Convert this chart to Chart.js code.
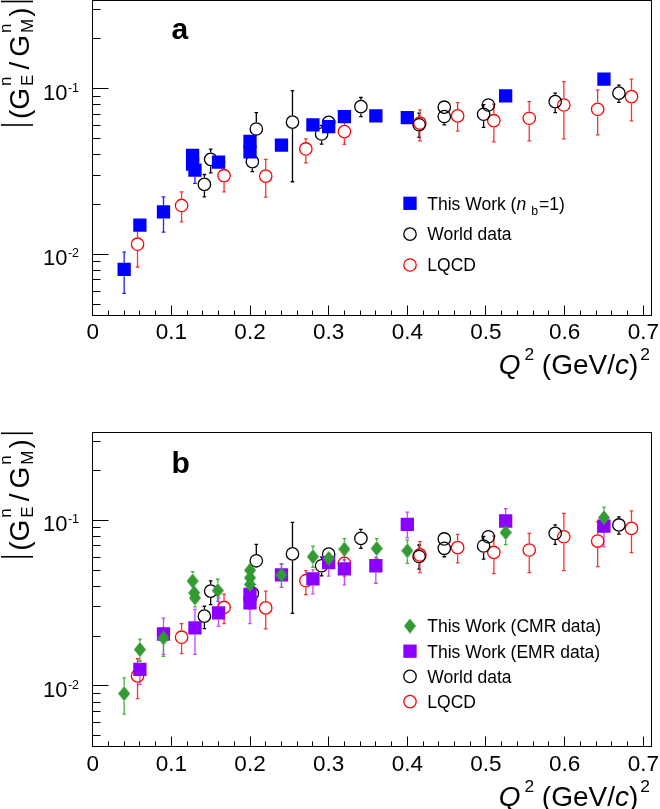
<!DOCTYPE html>
<html>
<head>
<meta charset="utf-8">
<script src="https://cdn.jsdelivr.net/npm/chart.js@4.4.1/dist/chart.umd.min.js"></script>
<style>
  html, body { margin: 0; padding: 0; background: #fff; }
  canvas { display: block; }
</style>
</head>
<body>
<canvas id="panelA" width="660" height="400"></canvas>
<canvas id="panelB" width="660" height="409"></canvas>
<script>
const FONT = '"Liberation Sans", Arial, Helvetica, sans-serif';

// axis ranges and tick labels
const q2Range = [0, 0.7107];
const ratioRange = [0.0043, 0.340];
const xTickValues = [0, 0.1, 0.2, 0.3, 0.4, 0.5, 0.6, 0.7];
const xTickLabels = ['0', '0.1', '0.2', '0.3', '0.4', '0.5', '0.6', '0.7'];
const yTickValues = [0.01, 0.1];
const yTickExponents = ['-2', '-1'];

// panel a : this work (n_b = 1)
const thisWorkQ2  = [0.040, 0.060, 0.090, 0.127, 0.127, 0.130, 0.160, 0.200, 0.200, 0.240, 0.280, 0.300, 0.320, 0.360, 0.400, 0.525, 0.650];
const thisWorkVal = [0.0081, 0.0150, 0.0180, 0.0395, 0.0350, 0.0322, 0.0360, 0.0480, 0.0415, 0.0456, 0.0603, 0.0589, 0.0678, 0.0684, 0.0668, 0.0903, 0.114];
const thisWorkLo  = [0.0058, 0.0140, 0.0136, 0.0370, 0.0320, 0.0268, 0.0340, 0.0450, 0.0380, 0.0430, 0.0570, 0.0560, 0.0640, 0.0650, 0.0630, 0.0860, 0.108];
const thisWorkHi  = [0.0103, 0.0160, 0.0222, 0.0420, 0.0380, 0.0360, 0.0380, 0.0510, 0.0450, 0.0480, 0.0640, 0.0620, 0.0720, 0.0720, 0.0710, 0.0950, 0.120];

// world data (both panels)
const worldQ2  = [0.142, 0.150, 0.203, 0.208, 0.254, 0.291, 0.300, 0.341, 0.415, 0.447, 0.447, 0.497, 0.503, 0.588, 0.669];
const worldVal = [0.0264, 0.0374, 0.0362, 0.0570, 0.0627, 0.0532, 0.0625, 0.0778, 0.0605, 0.0772, 0.0678, 0.0700, 0.0796, 0.0834, 0.0938];
const worldLo  = [0.0222, 0.0310, 0.0315, 0.0520, 0.0274, 0.0462, 0.0580, 0.0678, 0.0508, 0.0720, 0.0603, 0.0583, 0.0740, 0.0716, 0.0826];
const worldHi  = [0.0303, 0.0431, 0.0400, 0.0716, 0.0973, 0.0600, 0.0670, 0.0883, 0.0710, 0.0836, 0.0740, 0.0800, 0.0860, 0.0938, 0.105];

// LQCD (both panels)
const lqcdQ2  = [0.057, 0.113, 0.167, 0.220, 0.271, 0.320, 0.416, 0.464, 0.510, 0.555, 0.599, 0.642, 0.685];
const lqcdVal = [0.0115, 0.0197, 0.0298, 0.0296, 0.0432, 0.0550, 0.0618, 0.0684, 0.0640, 0.0662, 0.0796, 0.0750, 0.0894];
const lqcdLo  = [0.00838, 0.01567, 0.0238, 0.0221, 0.0356, 0.0461, 0.0484, 0.0554, 0.0477, 0.0483, 0.0497, 0.0525, 0.0638];
const lqcdHi  = [0.0146, 0.0238, 0.0359, 0.0374, 0.0497, 0.0630, 0.0743, 0.0822, 0.0805, 0.0834, 0.110, 0.0982, 0.114];

// panel b : CMR data
const cmrQ2  = [0.040, 0.060, 0.090, 0.127, 0.129, 0.130, 0.159, 0.200, 0.200, 0.200, 0.240, 0.280, 0.300, 0.320, 0.361, 0.400, 0.525, 0.650];
const cmrVal = [0.0090, 0.0166, 0.0195, 0.0430, 0.0365, 0.0340, 0.0377, 0.0500, 0.0450, 0.0410, 0.0468, 0.0603, 0.0589, 0.0670, 0.0676, 0.0655, 0.0844, 0.1037];
const cmrLo  = [0.00676, 0.0141, 0.0151, 0.0390, 0.0330, 0.0300, 0.0324, 0.0450, 0.0410, 0.0370, 0.0394, 0.0520, 0.0540, 0.0575, 0.0588, 0.0550, 0.0714, 0.0852];
const cmrHi  = [0.0112, 0.0192, 0.0224, 0.0490, 0.0400, 0.0380, 0.0441, 0.0550, 0.0490, 0.0450, 0.0545, 0.0699, 0.0640, 0.0776, 0.0776, 0.0759, 0.0976, 0.1203];

// panel b : EMR data
const emrQ2  = [0.060, 0.090, 0.130, 0.160, 0.200, 0.200, 0.240, 0.280, 0.300, 0.320, 0.360, 0.400, 0.525, 0.650];
const emrVal = [0.0126, 0.0206, 0.0224, 0.0276, 0.0357, 0.0318, 0.0468, 0.0443, 0.0555, 0.0510, 0.0532, 0.0946, 0.0991, 0.0924];
const emrLo  = [0.0102, 0.0155, 0.0155, 0.0229, 0.0290, 0.0238, 0.0394, 0.0360, 0.0461, 0.0408, 0.0417, 0.0783, 0.0850, 0.0692];
const emrHi  = [0.0131, 0.0257, 0.0290, 0.0340, 0.0420, 0.0370, 0.0545, 0.0502, 0.0620, 0.0580, 0.0600, 0.112, 0.1175, 0.110];

// legend texts, as [text, style, gap before]
const legendThisWork = [['This Work (', ''], ['n', 'i'], ['b', 'sub', 5], ['=1)', '', 1]];
const legendCMR = [['This Work (CMR data)', '']];
const legendEMR = [['This Work (EMR data)', '']];
const legendWorld = [['World data', '']];
const legendLQCD = [['LQCD', '']];
const xTitle = [['Q', 'i'], ['2', 'sup', 4], [' (GeV/', ''], ['c', 'i'], [')', ''], ['2', 'sup', 2]];

function points(xs, ys, lo, hi) {
  return xs.map((x, i) => ({x: x, y: ys[i], lo: lo[i], hi: hi[i]}));
}

function diamondImage(fill, w, h) {
  const c = document.createElement('canvas');
  c.width = w; c.height = h;
  const g = c.getContext('2d');
  g.fillStyle = fill;
  g.beginPath();
  g.moveTo(w / 2, 0); g.lineTo(w, h / 2); g.lineTo(w / 2, h); g.lineTo(0, h / 2);
  g.closePath(); g.fill();
  return c;
}

function squareSet(label, color, errColor, pts, legend) {
  return {label: label, data: pts, legendText: legend, pointStyle: 'rect', pointRadius: 9.4,
    pointBorderWidth: 0, pointBackgroundColor: color, pointBorderColor: color, errColor: errColor, half: 6.7};
}
function circleSet(label, color, errColor, pts, legend) {
  return {label: label, data: pts, legendText: legend, pointStyle: 'circle', pointRadius: 6.2,
    pointBorderWidth: 1.3, pointBackgroundColor: 'rgba(0,0,0,0)', pointBorderColor: color, errColor: errColor, half: 6.9};
}
function diamondSet(label, color, errColor, pts, legend) {
  return {label: label, data: pts, legendText: legend, pointStyle: diamondImage(color, 12, 15), pointRadius: 7.5,
    pointBackgroundColor: color, errColor: errColor, half: 7.5};
}

function segFont(style, size) {
  let s = size;
  if (style === 'sup') s = size * 0.62;
  if (style === 'sub') s = size * 0.7;
  return (style === 'i' ? 'italic ' : '') + s.toFixed(1) + 'px ' + FONT;
}

function drawRich(ctx, segs, x, y, size, align) {
  let w = 0;
  segs.forEach(s => { ctx.font = segFont(s[1], size); w += (s[2] || 0) + ctx.measureText(s[0]).width; });
  let cx = align === 'right' ? x - w : x;
  ctx.textAlign = 'left';
  ctx.textBaseline = 'alphabetic';
  segs.forEach(s => {
    ctx.font = segFont(s[1], size);
    cx += s[2] || 0;
    const dy = s[1] === 'sup' ? -0.5 * size : (s[1] === 'sub' ? 0.28 * size : 0);
    ctx.fillText(s[0], cx, y + dy);
    cx += ctx.measureText(s[0]).width;
  });
}

function drawMarker(ctx, ds, x, y) {
  const st = ds.pointStyle;
  if (typeof st !== 'string') { ctx.drawImage(st, x - st.width / 2, y - st.height / 2); return; }
  if (st === 'rect') {
    const s = ds.pointRadius * Math.SQRT1_2;
    ctx.fillStyle = ds.pointBackgroundColor;
    ctx.fillRect(x - s, y - s, 2 * s, 2 * s);
    return;
  }
  ctx.beginPath();
  ctx.arc(x, y, ds.pointRadius, 0, 2 * Math.PI);
  ctx.lineWidth = ds.pointBorderWidth;
  ctx.strokeStyle = ds.pointBorderColor;
  ctx.stroke();
}

function drawYTitle(ctx, area) {
  const big = 28, small = 17;
  const fb = big + 'px ' + FONT, fs = small + 'px ' + FONT;
  ctx.font = fb;
  const wOpen = ctx.measureText('(').width, wG = ctx.measureText('G').width;
  const wSlash = ctx.measureText('/').width, wClose = ctx.measureText(')').width;
  ctx.font = fs;
  const wN = ctx.measureText('n').width;
  const wS1 = Math.max(wN, ctx.measureText('E').width);
  const wS2 = Math.max(wN, ctx.measureText('M').width);
  const gBar = 5, gSub = 2, gSlash = 5;
  const total = 2 + gBar + wOpen + wG + gSub + wS1 + gSlash + wSlash + gSlash + wG + gSub + wS2 + gSub + wClose + gBar + 2;
  ctx.save();
  ctx.translate(29, area.top + total);
  ctx.rotate(-Math.PI / 2);
  ctx.fillStyle = '#000'; ctx.strokeStyle = '#000'; ctx.lineWidth = 1.6;
  ctx.textAlign = 'left'; ctx.textBaseline = 'alphabetic';
  let u = 0;
  const bar = () => { ctx.beginPath(); ctx.moveTo(u + 1, -28); ctx.lineTo(u + 1, 4); ctx.stroke(); u += 2; };
  const big1 = t => { ctx.font = fb; ctx.fillText(t, u, 0); u += ctx.measureText(t).width; };
  const stack = (top, bot, w) => {
    ctx.font = fs;
    ctx.fillText(top, u, -18);
    ctx.fillText(bot, u, 4);
    u += w;
  };
  bar(); u += gBar;
  big1('('); big1('G'); u += gSub; stack('n', 'E', wS1);
  u += gSlash; big1('/'); u += gSlash;
  big1('G'); u += gSub; stack('n', 'M', wS2); u += gSub; big1(')');
  u += gBar; bar();
  ctx.restore();
}

const errorBars = {
  id: 'errorBars',
  beforeDatasetsDraw(chart) {
    const ctx = chart.ctx, xs = chart.scales.x, ys = chart.scales.y;
    ctx.save();
    chart.data.datasets.forEach(ds => {
      ctx.strokeStyle = ds.errColor;
      ctx.lineWidth = 1.3;
      ds.data.forEach(p => {
        const px = xs.getPixelForValue(p.x), py = ys.getPixelForValue(p.y);
        const top = ys.getPixelForValue(p.hi), bot = ys.getPixelForValue(p.lo);
        ctx.beginPath();
        if (py - ds.half > top) {
          ctx.moveTo(px, py - ds.half); ctx.lineTo(px, top);
          ctx.moveTo(px - 1.8, top); ctx.lineTo(px + 1.8, top);
        }
        if (py + ds.half < bot) {
          ctx.moveTo(px, py + ds.half); ctx.lineTo(px, bot);
          ctx.moveTo(px - 1.8, bot); ctx.lineTo(px + 1.8, bot);
        }
        ctx.stroke();
      });
    });
    ctx.restore();
  }
};

const decor = {
  id: 'decor',
  afterDraw(chart, args, o) {
    const ctx = chart.ctx, a = chart.chartArea, xs = chart.scales.x, ys = chart.scales.y;
    ctx.save();
    ctx.strokeStyle = '#000'; ctx.fillStyle = '#000'; ctx.lineWidth = 1;
    const L = Math.floor(a.left) + 0.5, T = Math.floor(a.top) + 0.5;
    const R = Math.floor(a.right) + 0.5, B = Math.floor(a.bottom) + 0.5;
    ctx.strokeRect(L, T, R - L, B - T);

    // ticks pointing into the frame
    ctx.beginPath();
    for (let i = 0; i <= 35; i++) {
      const px = Math.floor(xs.getPixelForValue(i * 0.02)) + 0.5;
      const len = i % 5 === 0 ? 10 : 5;
      ctx.moveTo(px, B); ctx.lineTo(px, B - len);
    }
    [0.001, 0.01, 0.1].forEach(d => {
      for (let k = 1; k <= 9; k++) {
        const v = d * k;
        if (v < ratioRange[0] || v > ratioRange[1]) continue;
        const py = Math.floor(ys.getPixelForValue(v)) + 0.5;
        ctx.moveTo(L, py); ctx.lineTo(L + (k === 1 ? 16 : 8), py);
      }
    });
    ctx.stroke();

    // x tick labels
    ctx.font = '22.5px ' + FONT;
    ctx.textAlign = 'center'; ctx.textBaseline = 'alphabetic';
    xTickValues.forEach((v, i) => ctx.fillText(xTickLabels[i], xs.getPixelForValue(v), a.bottom + 24));

    // y tick labels 10^n
    yTickValues.forEach((v, i) => {
      const py = ys.getPixelForValue(v);
      ctx.textAlign = 'left';
      ctx.font = '12.5px ' + FONT;
      const w2 = ctx.measureText(yTickExponents[i]).width;
      ctx.font = '22px ' + FONT;
      const w1 = ctx.measureText('10').width;
      ctx.fillText('10', 79 - w2 - w1 - 0.5, py + 11);
      ctx.font = '12.5px ' + FONT;
      ctx.fillText(yTickExponents[i], 79 - w2, py + 3);
    });

    drawYTitle(ctx, a);
    drawRich(ctx, xTitle, 650, a.bottom + 59, 28, 'right');

    // panel letter
    ctx.font = 'bold 30px ' + FONT;
    ctx.textAlign = 'left';
    ctx.fillText(o.letter, 171.5, a.top + o.letterY);

    // legend
    chart.data.datasets.forEach((ds, i) => {
      const y = a.top + o.legendY + i * o.legendDy;
      drawMarker(ctx, ds, 410, y);
      ctx.fillStyle = '#000';
      drawRich(ctx, ds.legendText, 427.3, y + 6.3, 17.5, 'left');
    });
    ctx.restore();
  }
};

function makeChart(id, datasets, padding, deco) {
  return new Chart(document.getElementById(id), {
    type: 'scatter',
    data: {datasets: datasets},
    options: {
      responsive: false,
      animation: false,
      events: [],
      layout: {padding: padding, autoPadding: false},
      scales: {
        x: {type: 'linear', min: q2Range[0], max: q2Range[1], display: false},
        y: {type: 'logarithmic', min: ratioRange[0], max: ratioRange[1], display: false}
      },
      plugins: {legend: {display: false}, tooltip: {enabled: false}, decor: deco}
    },
    plugins: [errorBars, decor]
  });
}

// first dataset is drawn on top
makeChart('panelA', [
  squareSet('This Work (nb=1)', '#0000ff', '#2020ff', points(thisWorkQ2, thisWorkVal, thisWorkLo, thisWorkHi), legendThisWork),
  circleSet('World data', '#000000', '#000000', points(worldQ2, worldVal, worldLo, worldHi), legendWorld),
  circleSet('LQCD', '#ff0000', '#ff3030', points(lqcdQ2, lqcdVal, lqcdLo, lqcdHi), legendLQCD)
], {left: 92.7, right: 8.3, top: 0.5, bottom: 85},
  {letter: 'a', letterY: 38, legendY: 202.8, legendDy: 30.85});

makeChart('panelB', [
  diamondSet('This Work (CMR data)', '#339933', '#40b040', points(cmrQ2, cmrVal, cmrLo, cmrHi), legendCMR),
  squareSet('This Work (EMR data)', '#8b00ff', '#cc44ff', points(emrQ2, emrVal, emrLo, emrHi), legendEMR),
  circleSet('World data', '#000000', '#000000', points(worldQ2, worldVal, worldLo, worldHi), legendWorld),
  circleSet('LQCD', '#ff0000', '#ff3030', points(lqcdQ2, lqcdVal, lqcdLo, lqcdHi), legendLQCD)
], {left: 92.7, right: 8.3, top: 32.3, bottom: 62.3},
  {letter: 'b', letterY: 41, legendY: 193.7, legendDy: 25.2});
</script>
</body>
</html>
